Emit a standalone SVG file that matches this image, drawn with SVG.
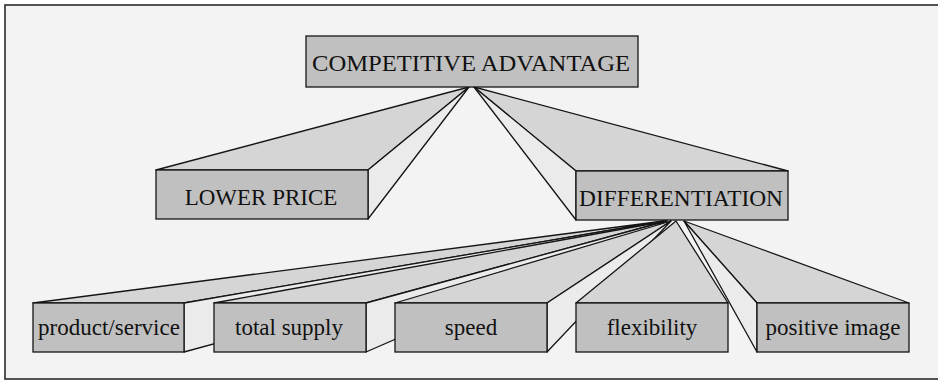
<svg xmlns="http://www.w3.org/2000/svg" width="938" height="382" viewBox="0 0 938 382">
  <style>
    .frame { fill: #f3f3f3; stroke: #2a2a2a; stroke-width: 1.6; }
    .front { fill: #c0c0c0; stroke: #151515; stroke-width: 1.3; }
    .top { fill: #d5d5d5; stroke: #151515; stroke-width: 1.3; stroke-linejoin: round; }
    .side { fill: #ebebeb; stroke: #151515; stroke-width: 1.3; stroke-linejoin: round; }
    .label { font-family: "Liberation Serif", "Times New Roman", serif; font-size: 23px; fill: #111; text-anchor: middle; }
  </style>

  <rect class="frame" x="5" y="5" width="940" height="374"/>

  <!-- perspective beams running from each parent to its children -->
  <g id="connectors">
    <!-- COMPETITIVE ADVANTAGE -> LOWER PRICE -->
    <polygon class="top" points="469,87 156,170 368,170"/>
    <polygon class="side" points="469,87 368,170 368,219"/>
    <!-- COMPETITIVE ADVANTAGE -> DIFFERENTIATION -->
    <polygon class="top" points="474,87 576,171 788,171"/>
    <polygon class="side" points="474,87 576,171 576,220"/>

    <!-- DIFFERENTIATION -> children, drawn farthest first -->
    <polygon class="top" points="664,221 33,303 184,303"/>
    <polygon class="side" points="664,221 184,303 184,352"/>
    <polygon class="top" points="667,221 214,303 366,303"/>
    <polygon class="side" points="667,221 366,303 366,352"/>
    <polygon class="top" points="671,221 395,303 547,303"/>
    <polygon class="side" points="671,221 547,303 547,352"/>
    <polygon class="top" points="684,221 757,303 909,303"/>
    <polygon class="side" points="684,221 757,303 757,352"/>
    <polygon class="top" points="676,221 576,303 728,303"/>
  </g>

  <g id="competitive-advantage">
    <rect class="front" x="306" y="36" width="332" height="51"/>
    <text class="label" x="471" y="71" font-size="28.5" textLength="318" lengthAdjust="spacingAndGlyphs">COMPETITIVE ADVANTAGE</text>
  </g>

  <g id="lower-price">
    <rect class="front" x="156" y="170" width="212" height="49"/>
    <text class="label" x="261" y="205">LOWER PRICE</text>
  </g>

  <g id="differentiation">
    <rect class="front" x="576" y="171" width="212" height="49"/>
    <text class="label" x="681" y="206" textLength="204" lengthAdjust="spacingAndGlyphs">DIFFERENTIATION</text>
  </g>

  <g id="product-service">
    <rect class="front" x="33" y="303" width="151" height="49"/>
    <text class="label" x="109" y="335">product/service</text>
  </g>

  <g id="total-supply">
    <rect class="front" x="214" y="303" width="152" height="49"/>
    <text class="label" x="289" y="335">total supply</text>
  </g>

  <g id="speed">
    <rect class="front" x="395" y="303" width="152" height="49"/>
    <text class="label" x="471" y="335">speed</text>
  </g>

  <g id="flexibility">
    <rect class="front" x="576" y="303" width="152" height="49"/>
    <text class="label" x="652" y="335">flexibility</text>
  </g>

  <g id="positive-image">
    <rect class="front" x="757" y="303" width="152" height="49"/>
    <text class="label" x="833" y="335">positive image</text>
  </g>
</svg>
